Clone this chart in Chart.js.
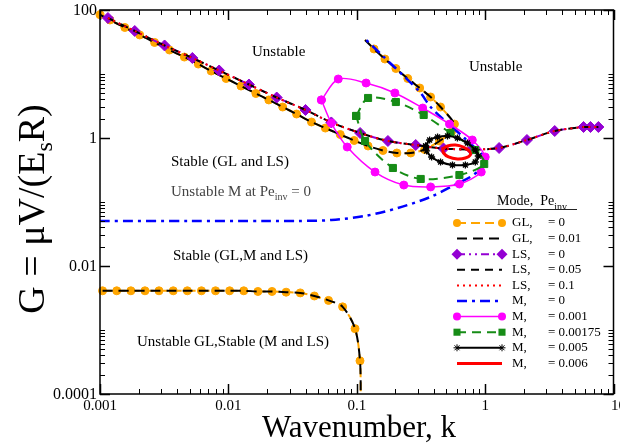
<!DOCTYPE html>
<html>
<head>
<meta charset="utf-8">
<script src="https://cdn.jsdelivr.net/npm/chart.js@4.4.0/dist/chart.umd.min.js"></script>
<style>
  html, body { margin: 0; padding: 0; background: #fff; }
  #wrap { width: 620px; height: 448px; }
</style>
</head>
<body>
<div id="wrap"><canvas id="myChart" width="620" height="448"></canvas></div>
<script>
// GL neutral curve (Pe_inv = 0), descending branch, fold and upper branch
const glK = [0.001, 0.001195, 0.001561, 0.002039, 0.002662, 0.003478, 0.004543, 0.005831, 0.007348, 0.009598,
  0.01254, 0.01638, 0.02065, 0.02648, 0.03399, 0.04439, 0.05694, 0.07439, 0.09548, 0.1225,
  0.16, 0.2053, 0.2634, 0.3381, 0.4416, 0.5468, 0.5768, 0.4495, 0.3762, 0.3093,
  0.2497, 0.2017, 0.1658, 0.1364, 0.1161];
const glG = [84.5, 69.8, 53.3, 40.7, 31.1, 23.7, 18.4, 14.3, 11.13, 8.51,
  6.49, 4.96, 3.93, 3.05, 2.37, 1.78, 1.43, 1.134, 0.914, 0.75,
  0.638, 0.583, 0.583, 0.661, 0.898, 1.24, 1.65, 3.05, 4.37, 6.04,
  8.51, 12.19, 17.15, 24.6, 34.0];
// GL lower curve
const glLowK = [0.001047, 0.00135, 0.00174, 0.00224, 0.00288, 0.00372, 0.00479, 0.00617, 0.00794, 0.01023,
  0.01318, 0.01698, 0.02188, 0.02818, 0.0363, 0.04677, 0.06026, 0.07762, 0.097, 0.106, 0.1075];
const glLowG = [0.0041, 0.0041, 0.0041, 0.0041, 0.0041, 0.0041, 0.0041, 0.0041, 0.0041, 0.0041,
  0.0041, 0.0040, 0.0040, 0.0039, 0.0038, 0.0034, 0.0029, 0.0023, 0.00105, 0.00033, 0.00008];
// LS curve
const lsK = [0.001153, 0.001866, 0.003184, 0.00524, 0.008475, 0.01446, 0.0238, 0.0399, 0.06339, 0.1062,
  0.1749, 0.2879, 0.4742, 0.7807, 1.285, 2.117, 3.485, 5.842, 6.616, 7.628];
const lsG = [75.0, 47.0, 27.9, 17.8, 11.34, 6.85, 4.29, 2.74, 1.75, 1.197,
  0.898, 0.777, 0.685, 0.661, 0.698, 0.931, 1.286, 1.486, 1.486, 1.486];
// M curves
const m0K = [0.001, 0.005, 0.02, 0.03522, 0.06339, 0.1161, 0.209, 0.3762, 0.5768, 0.7671,
  0.9004, 0.984, 0.9667, 0.8688, 0.6894, 0.5093, 0.3762, 0.3149, 0.2367, 0.1629, 0.1121];
const m0G = [0.0505, 0.0505, 0.0505, 0.0505, 0.0523, 0.0605, 0.0806, 0.120, 0.184, 0.246,
  0.316, 0.407, 0.523, 0.649, 1.0, 1.71, 3.05, 5.05, 8.98, 18.4, 37.9];
const m001K = [0.05304, 0.07179, 0.1182, 0.1982, 0.3263, 0.5278, 0.7946, 1.002, 0.9328, 0.6305,
  0.3762, 0.2326, 0.1388, 0.0843, 0.06339, 0.05304];
const m001G = [3.93, 8.35, 7.23, 5.05, 2.94, 1.65, 0.931, 0.505, 0.294, 0.191,
  0.172, 0.184, 0.294, 0.723, 1.71, 3.93];
const m00175K = [0.099, 0.1225, 0.2017, 0.3321, 0.5372, 0.8384, 0.984, 0.6305, 0.3149, 0.1912, 0.1161, 0.099];
const m00175G = [2.21, 4.22, 3.65, 2.29, 1.197, 0.649, 0.392, 0.264, 0.229, 0.340, 0.898, 2.21];
const m005K = [0.3441, 0.3696, 0.4262, 0.5093, 0.6084, 0.727, 0.8384, 0.8843, 0.8384, 0.7017,
  0.5567, 0.4496, 0.3829, 0.3503, 0.3441];
const m005G = [0.75, 0.931, 1.037, 1.075, 1.0, 0.835, 0.649, 0.523, 0.422, 0.379,
  0.379, 0.422, 0.505, 0.627, 0.75];
const m006K = [0.4659, 0.5093, 0.5872, 0.6771, 0.7534, 0.7671, 0.7017, 0.6084, 0.5185, 0.4742, 0.4659];
const m006G = [0.673, 0.75, 0.777, 0.723, 0.627, 0.542, 0.487, 0.47, 0.505, 0.583, 0.673];

// axes
const xTicks = [0.001, 0.01, 0.1, 1, 10];
const xTickLabels = ['0.001', '0.01', '0.1', '1', '10'];
const yTicks = [0.0001, 0.01, 1, 100];
const yTickLabels = ['0.0001', '0.01', '1', '100'];

// legend text
const legendModes = ['GL,', 'GL,', 'LS,', 'LS,', 'LS,', 'M,', 'M,', 'M,', 'M,', 'M,'];
const legendPe = ['= 0', '= 0.01', '= 0', '= 0.05', '= 0.1', '= 0', '= 0.001', '= 0.00175', '= 0.005', '= 0.006'];

function pts(k, g) {
  return k.map((v, i) => ({ x: v, y: g[i] }));
}

// one entry per legend row, in drawing order
const series = [
  { curves: [pts(glK, glG), pts(glLowK, glLowG)], color: '#ffa500', width: 2, dash: [9, 5], point: 'circle', r: 4, bareEnd: true },
  { curves: [pts(glK, glG), pts(glLowK, glLowG)], color: '#000000', width: 2, dash: [10, 6], point: false },
  { curves: [pts(lsK, lsG)], color: '#9400d3', width: 2, dash: [8, 4, 2, 4, 2, 4], point: 'rectRot', r: 5.5 },
  { curves: [pts(lsK, lsG)], color: '#000000', width: 2, dash: [8, 6], point: false },
  { curves: [pts(lsK, lsG)], color: '#ff0000', width: 2, dash: [2, 4], point: false },
  { curves: [pts(m0K, m0G)], color: '#0000ff', width: 2.5, dash: [10, 5, 3, 5], point: false },
  { curves: [pts(m001K, m001G)], color: '#ff00ff', width: 1.5, dash: [], point: 'circle', r: 4 },
  { curves: [pts(m00175K, m00175G)], color: '#168c16', width: 2, dash: [9, 6], point: 'rect', r: 5 },
  { curves: [pts(m005K, m005G)], color: '#000000', width: 2, dash: [], point: 'star', r: 3.5 },
  { curves: [pts(m006K, m006G)], color: '#ff0000', width: 3, dash: [], point: false }
];

const datasets = [];
series.forEach(s => {
  s.curves.forEach((c, ci) => {
    let radius = s.point ? s.r : 0;
    // the upper GL branch ends without a symbol
    if (s.bareEnd && ci === 0) radius = c.map((p, i) => (i === c.length - 1 ? 0 : s.r));
    datasets.push({
      data: c,
      showLine: true,
      borderColor: s.color,
      borderWidth: s.width,
      borderDash: s.dash,
      tension: 0.3,
      pointStyle: s.point || 'circle',
      pointRadius: radius,
      pointHoverRadius: 0,
      pointBackgroundColor: s.color,
      pointBorderColor: s.color,
      pointBorderWidth: s.point === 'star' ? 1.3 : 1,
      clip: { left: 6, top: 6, right: 6, bottom: 0 }
    });
  });
});
datasets.forEach((d, i) => { d.order = 100 - i; });

const serif = '"Liberation Serif", "DejaVu Serif", serif';

function marker(ctx, s, x, y) {
  if (!s.point) return;
  const r = s.r;
  ctx.save();
  ctx.setLineDash([]);
  ctx.fillStyle = s.color;
  ctx.strokeStyle = s.color;
  ctx.lineWidth = 1;
  ctx.beginPath();
  if (s.point === 'circle') {
    ctx.arc(x, y, r, 0, Math.PI * 2);
    ctx.fill();
  } else if (s.point === 'rectRot') {
    ctx.moveTo(x, y - r); ctx.lineTo(x + r, y); ctx.lineTo(x, y + r); ctx.lineTo(x - r, y);
    ctx.closePath();
    ctx.fill();
  } else if (s.point === 'rect') {
    const h = r * Math.SQRT1_2;
    ctx.rect(x - h, y - h, 2 * h, 2 * h);
    ctx.fill();
  } else if (s.point === 'star') {
    for (let a = 0; a < 4; a++) {
      const t = a * Math.PI / 4;
      ctx.moveTo(x - r * Math.cos(t), y - r * Math.sin(t));
      ctx.lineTo(x + r * Math.cos(t), y + r * Math.sin(t));
    }
    ctx.stroke();
  }
  ctx.restore();
}

// subscripted text piece by piece: [text, isSub]
function richText(ctx, parts, x, y, size, subSize, subDrop) {
  let cx = x;
  parts.forEach(([t, sub]) => {
    ctx.font = (sub ? subSize : size) + 'px ' + serif;
    ctx.fillText(t, cx, sub ? y + subDrop : y);
    cx += ctx.measureText(t).width;
  });
}

const decorations = {
  id: 'decorations',
  afterDraw(chart) {
    const { ctx, chartArea: a, scales: { x, y } } = chart;
    ctx.save();
    ctx.strokeStyle = '#000';
    ctx.fillStyle = '#000';
    ctx.setLineDash([]);

    // frame
    ctx.lineWidth = 1.5;
    ctx.strokeRect(a.left, a.top, a.right - a.left, a.bottom - a.top);

    // inward ticks on all four sides
    function seg(x1, y1, x2, y2) {
      ctx.beginPath(); ctx.moveTo(x1, y1); ctx.lineTo(x2, y2); ctx.stroke();
    }
    for (let d = -3; d <= 1; d++) {
      for (let m = 1; m <= 9; m++) {
        const v = m * Math.pow(10, d);
        if (v > 10.0001) break;
        const px = Math.round(x.getPixelForValue(v)) + 0.5;
        const len = m === 1 ? 10 : 5;
        ctx.lineWidth = m === 1 ? 1.5 : 1;
        seg(px, a.bottom, px, a.bottom - len);
        seg(px, a.top, px, a.top + len);
      }
    }
    yTicks.forEach(v => {
      const py = Math.round(y.getPixelForValue(v)) + 0.5;
      ctx.lineWidth = 1.5;
      seg(a.left, py, a.left + 10, py);
      seg(a.right, py, a.right - 10, py);
      if (v < 100) {
        for (let m = 2; m <= 10; m++) {
          const q = Math.round(y.getPixelForValue(v * m)) + 0.5;
          ctx.lineWidth = 1;
          seg(a.left, q, a.left + 5, q);
          seg(a.right, q, a.right - 5, q);
        }
      }
    });

    // tick labels (the last one runs off the right edge)
    ctx.textBaseline = 'middle';
    ctx.font = '15px ' + serif;
    ctx.textAlign = 'center';
    xTicks.forEach((v, i) => {
      const px = x.getPixelForValue(v) + (i === xTicks.length - 1 ? 5 : 0);
      ctx.fillText(xTickLabels[i], px, a.bottom + 12);
    });
    ctx.font = '16px ' + serif;
    ctx.textAlign = 'right';
    yTicks.forEach((v, i) => ctx.fillText(yTickLabels[i], a.left - 3, y.getPixelForValue(v) + 1));

    // axis titles
    ctx.textAlign = 'center';
    ctx.textBaseline = 'alphabetic';
    ctx.font = '31px ' + serif;
    ctx.fillText('Wavenumber, k', 359, 437);

    ctx.save();
    ctx.translate(44, 209);
    ctx.rotate(-Math.PI / 2);
    ctx.textAlign = 'left';
    const big = 38, small = 24;
    ctx.font = big + 'px ' + serif;
    const w1 = ctx.measureText('G = \u03bcV/(E').width;
    const w3 = ctx.measureText('R)').width;
    ctx.font = small + 'px ' + serif;
    const w2 = ctx.measureText('s').width;
    richText(ctx, [['G = \u03bcV/(E', false], ['s', true], ['R)', false]], -(w1 + w2 + w3) / 2, 0, big, small, 8);
    ctx.restore();

    // region labels
    ctx.textAlign = 'left';
    ctx.textBaseline = 'middle';
    ctx.font = '15px ' + serif;
    ctx.fillText('Unstable', 252, 52);
    ctx.fillText('Unstable', 469, 67);
    ctx.fillText('Stable (GL and LS)', 171, 162);
    ctx.fillText('Stable (GL,M and LS)', 173, 256);
    ctx.fillText('Unstable GL,Stable (M and LS)', 137, 342);
    ctx.fillStyle = '#444';
    richText(ctx, [['Unstable M at Pe', false], ['inv', true], [' = 0', false]], 171, 192, 15, 10, 5);

    // legend
    ctx.fillStyle = '#000';
    ctx.textBaseline = 'alphabetic';
    richText(ctx, [['Mode,  Pe', false], ['inv', true]], 497, 205, 14, 10, 5);
    ctx.lineWidth = 1;
    ctx.strokeStyle = '#222';
    seg(457, 209.5, 577, 209.5);
    ctx.textBaseline = 'middle';
    ctx.font = '13px ' + serif;
    series.forEach((s, i) => {
      const ry = 223 + i * 15.6;
      ctx.save();
      ctx.strokeStyle = s.color;
      ctx.lineWidth = s.width;
      ctx.setLineDash(s.dash);
      seg(457, ry, 502, ry);
      ctx.restore();
      marker(ctx, s, 457, ry);
      marker(ctx, s, 502, ry);
      ctx.fillStyle = '#000';
      ctx.fillText(legendModes[i], 512, ry);
      ctx.fillText(legendPe[i], 548, ry);
    });
    ctx.restore();
  }
};

new Chart(document.getElementById('myChart'), {
  type: 'scatter',
  data: { datasets: datasets },
  options: {
    responsive: false,
    animation: false,
    devicePixelRatio: 1,
    layout: { padding: { top: 10, right: 2, left: 0, bottom: 0 } },
    plugins: { legend: { display: false }, tooltip: { enabled: false } },
    scales: {
      x: {
        type: 'logarithmic', min: 0.001, max: 10,
        ticks: { display: false }, grid: { display: false }, border: { display: false },
        afterFit: s => { s.height = 54; }
      },
      y: {
        type: 'logarithmic', min: 0.0001, max: 100,
        ticks: { display: false }, grid: { display: false }, border: { display: false },
        afterFit: s => { s.width = 100; }
      }
    }
  },
  plugins: [decorations]
});
</script>
</body>
</html>
